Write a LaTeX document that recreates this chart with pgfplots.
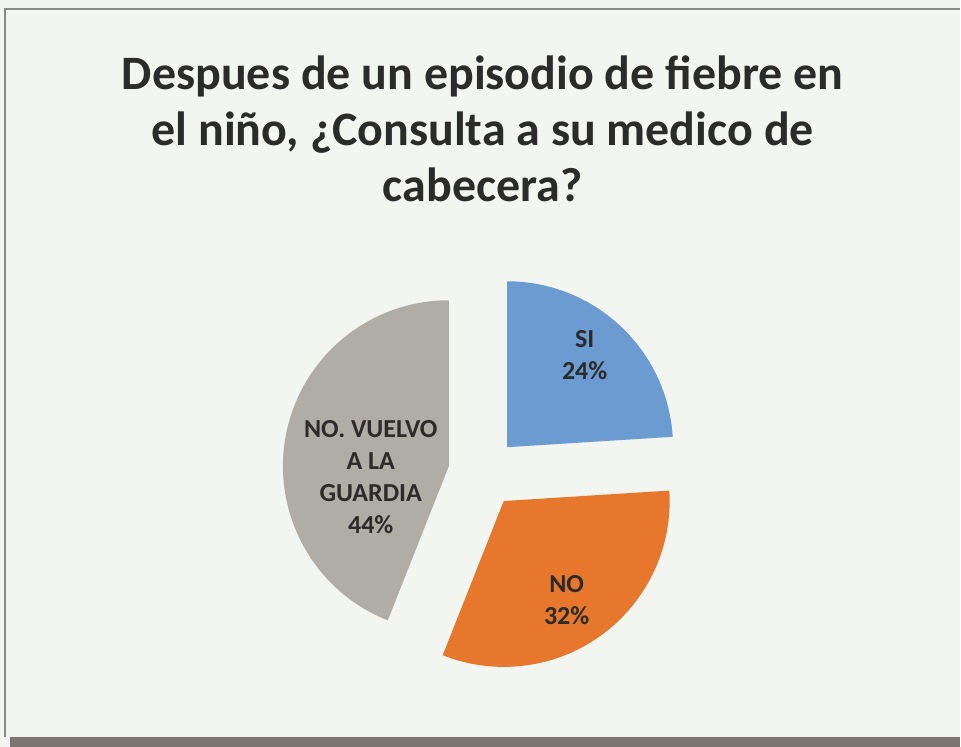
\documentclass[border=0pt]{standalone}
\usepackage{pgfplots}
\usepackage{pgfplotstable}
\pgfplotsset{compat=1.18}
\usepackage{fontspec}
\setmainfont{Carlito}
\definecolor{bgc}{HTML}{F3F5F1}
\definecolor{framec}{HTML}{8A8A88}
\definecolor{bandc}{HTML}{7B766F}
\definecolor{sicol}{HTML}{6B9BD0}
\definecolor{nocol}{HTML}{E8772E}
\definecolor{gucol}{HTML}{B0ACA6}
\definecolor{txt}{HTML}{2B2B2B}
\pgfplotstableread{
label value
SI 24
NO 32
GUARDIA 44
}\piedata
\begin{document}
\begin{tikzpicture}
\pgfplotstablegetelem{0}{value}\of\piedata \let\vA\pgfplotsretval
\pgfplotstablegetelem{1}{value}\of\piedata \let\vB\pgfplotsretval
\pgfplotstablegetelem{2}{value}\of\piedata \let\vC\pgfplotsretval
\def\cx{483.5}\def\cy{274}\def\ex{35}
\pgfmathsetmacro\sA{90}
\pgfmathsetmacro\eA{\sA-3.6*\vA}
\pgfmathsetmacro\mA{(\sA+\eA)/2}
\pgfmathsetmacro\sB{\eA}
\pgfmathsetmacro\eB{\sB-3.6*\vB}
\pgfmathsetmacro\mB{(\sB+\eB)/2}
\pgfmathsetmacro\sC{\eB}
\pgfmathsetmacro\eC{\sC-3.6*\vC}
\pgfmathsetmacro\mC{(\sC+\eC)/2}
\pgfmathsetmacro\xA{\cx+\ex*cos(\mA)}\pgfmathsetmacro\yA{\cy+\ex*sin(\mA)}
\pgfmathsetmacro\xB{\cx+\ex*cos(\mB)}\pgfmathsetmacro\yB{\cy+\ex*sin(\mB)}
\pgfmathsetmacro\xC{\cx+\ex*cos(\mC)}\pgfmathsetmacro\yC{\cy+\ex*sin(\mC)}
\begin{axis}[width=961bp,height=747bp,scale only axis,
  xmin=0,xmax=961,ymin=0,ymax=747,enlargelimits=false,
  hide axis,clip=false]
\fill[bgc] (axis cs:0,0) rectangle (axis cs:961,747);
\draw[framec,line width=1.2bp] (axis cs:5,10) -- (axis cs:5,738) -- (axis cs:961,738);
\fill[bandc] (axis cs:10,0) rectangle (axis cs:961,10);
\fill[sicol] (axis cs:\xA,\yA) -- ++(\sA:166bp) arc[start angle=\sA,end angle=\eA,radius=166bp] -- cycle;
\fill[nocol] (axis cs:\xB,\yB) -- ++(\sB:166bp) arc[start angle=\sB,end angle=\eB,radius=166bp] -- cycle;
\fill[gucol] (axis cs:\xC,\yC) -- ++(\sC:166bp) arc[start angle=\sC,end angle=\eC,radius=166bp] -- cycle;
\node[txt,align=center,font=\fontsize{26bp}{32bp}\selectfont\bfseries] at (axis cs:585,392) {SI\\24\%};
\node[txt,align=center,font=\fontsize{26bp}{32bp}\selectfont\bfseries] at (axis cs:567,147) {NO\\32\%};
\node[txt,align=center,font=\fontsize{26bp}{32bp}\selectfont\bfseries] at (axis cs:371,270) {NO. VUELVO\\A LA\\GUARDIA\\44\%};
\node[txt,align=center,font=\fontsize{48bp}{56bp}\selectfont\bfseries] at (axis cs:483,618) {Despues de un episodio de fiebre en\\el niño, ¿Consulta a su medico de\\cabecera?};
\end{axis}
\end{tikzpicture}
\end{document}
